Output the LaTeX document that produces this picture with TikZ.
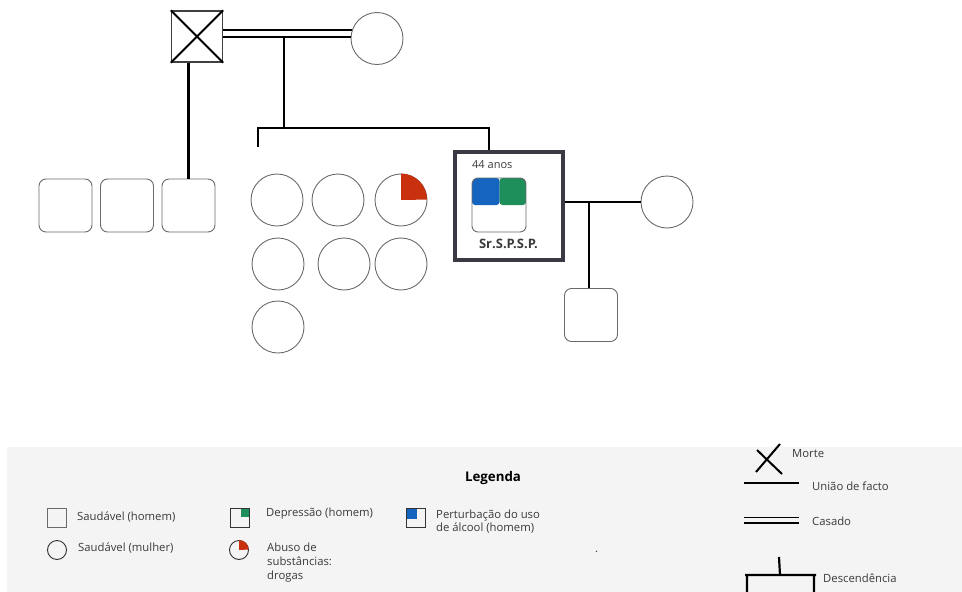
\documentclass[tikz,border=0pt]{standalone}
\usepackage{fontspec}
\setmainfont{Open Sans}
\usetikzlibrary{calc}
\definecolor{ablue}{HTML}{1565C0}
\definecolor{dgreen}{HTML}{1E8E5A}
\definecolor{dred}{HTML}{C8300E}
\definecolor{shape}{HTML}{6A6A6A}
\definecolor{txt}{HTML}{3A3A3A}
\definecolor{legbg}{HTML}{F4F4F4}
\definecolor{egoc}{HTML}{3A3A44}
\begin{document}
\begin{tikzpicture}[x=1pt,y=-1pt,
 man/.style={draw=shape,line width=0.9pt,rounded corners=7pt,minimum size=53pt,inner sep=0pt},
 woman/.style={draw=shape,line width=0.9pt,circle,minimum size=52pt,inner sep=0pt},
 link/.style={line width=2pt,black},
 desc/.style={line width=2.4pt,black},
 lbl/.style={font=\fontsize{11.3}{14}\selectfont,text=txt,anchor=west,inner sep=0pt,align=left},
 lblb/.style={font=\fontsize{13.3}{15}\selectfont\bfseries,text=black,inner sep=0pt},
 lsq/.style={draw=shape,line width=0.9pt,minimum size=19pt,inner sep=0pt},
 lci/.style={draw=black!80,line width=0.9pt,circle,minimum size=19pt,inner sep=0pt},
 sym/.style={line width=2pt,black},
]
\useasboundingbox (0,0) rectangle (962,592);
% legend background
\fill[legbg] (7,447) rectangle (962,592);

% ---------- first generation ----------
\node[draw=black!75,line width=1.3pt,minimum size=51pt,inner sep=0pt] (father) at (197,36.5) {};
\draw[line width=1.8pt] (father.north west) -- (father.south east)
                        (father.north east) -- (father.south west);
\node[woman] (mother) at (377,38.5) {};
\coordinate (m1) at ($(father.east)+(0,-6.5)$);
\coordinate (m2) at ($(father.east)+(0,0.5)$);
\draw[link] (m1) -- (m1 -| mother.161);
\draw[link] (m2) -- (m2 -| mother.177);

% ---------- siblings ----------
\node[man] (sib1) at (65.5,205.5) {};
\node[man] (sib2) at (127,205.5) {};
\node[man] (sib3) at (188.5,205.5) {};
\draw[desc] (father.south -| sib3.north) -- (sib3.north);

\node[woman] (c1) at (277,200) {};
\node[woman] (c2) at (338,200) {};
\node[woman] (c3) at (401,200) {};
\fill[dred] (c3.center) -- (c3.north) arc[start angle=90,end angle=0,radius=26pt] -- cycle;
\node[woman] (c4) at (278,264) {};
\node[woman] (c5) at (344,264) {};
\node[woman] (c6) at (401,264) {};
\node[woman] (c7) at (278,327) {};

% ---------- ego ----------
\node[draw=egoc,line width=3.5pt,minimum size=108pt,inner sep=0pt] (ego) at (509,206) {};
\begin{scope}
\clip[rounded corners=6pt] (472,178) rectangle (526,232);
\fill[ablue,rounded corners=3pt] (472,178) rectangle (499.5,205);
\fill[dgreen,rounded corners=3pt] (499.5,178) rectangle (526,205);
\end{scope}
\node[draw=shape,line width=0.9pt,rounded corners=6pt,minimum size=54pt,inner sep=0pt] (icon) at (499,205) {};
\node[lbl,font=\fontsize{11}{12}\selectfont] (age) at (472,164.5) {44 anos};
\node[lblb,font=\fontsize{13}{14}\selectfont\bfseries,text=txt] (name) at (508.5,244) {Sr.S.P.S.P.};

% descent from parents
\coordinate (dj) at (284,37);
\coordinate (dh) at (284,128);
\coordinate (sibL) at (258,128);
\coordinate (sibLend) at (258,147);
\coordinate (sibR) at (489,128);
\draw[desc] (dj) -- (dh);
\draw[desc] (sibLend) -- (sibL) -- (sibR) -- (sibR |- ego.north);

% ---------- partner & child ----------
\node[woman] (partner) at (667,202) {};
\draw[link] (ego.east |- partner.west) -- (partner.west);
\coordinate (cj) at (589,202);
\node[man] (child) at (591,315) {};
\draw[desc] (cj) -- (cj |- child.north);

% ---------- legend ----------
\node[lblb] (legtitle) at (493,478) {Legenda};

\node[lsq] (lg1) at (56.5,517.5) {};
\node[lbl] (lt1) at (77,517) {Saudável (homem)};
\node[lci] (lg2) at (57,550) {};
\node[lbl] (lt2) at (78,548) {Saudável (mulher)};

\fill[dgreen] (240.5,507.5) rectangle (249.5,516.5);
\node[draw=black!80,line width=0.9pt,minimum size=19pt,inner sep=0pt] (lg3) at (239.5,518) {};
\node[lbl] (lt3) at (266,514) {Depressão (homem)};
\node[lci] (lg4) at (239,550) {};
\fill[dred] (lg4.center) -- (lg4.north) arc[start angle=90,end angle=0,radius=9.5pt] -- cycle;
\node[lbl] (lt4) at (267,563) {Abuso de\\substâncias:\\drogas};

\fill[ablue] (405.5,507.5) rectangle (417,518.5);
\node[draw=black!80,line width=0.9pt,minimum size=19pt,inner sep=0pt] (lg5) at (415.5,517.5) {};
\node[lbl,font=\fontsize{11.3}{13.5}\selectfont] (lt5) at (436,521.5) {Perturbação do uso\\de álcool (homem)};
\node[lbl] (dot) at (595,552) {.};

% right legend symbols
\draw[sym] (757,450) -- (782,474) (780,444) -- (756,472);
\node[lbl] (lt6) at (792,454) {Morte};
\draw[sym] (744,483) -- (799,483);
\node[lbl] (lt7) at (812,486) {União de facto};
\draw[line width=1.6pt] (744,517.5) -- (799,517.5) (744,523) -- (799,523);
\node[lbl] (lt8) at (812,521) {Casado};
\draw[line width=2.2pt] (779,557) -- (780,575) (745,575) -- (816,575)
  (747,575) -- (747,592) (814,575) -- (814,592);
\node[lbl] (lt9) at (823,578) {Descendência};
\end{tikzpicture}
\end{document}
